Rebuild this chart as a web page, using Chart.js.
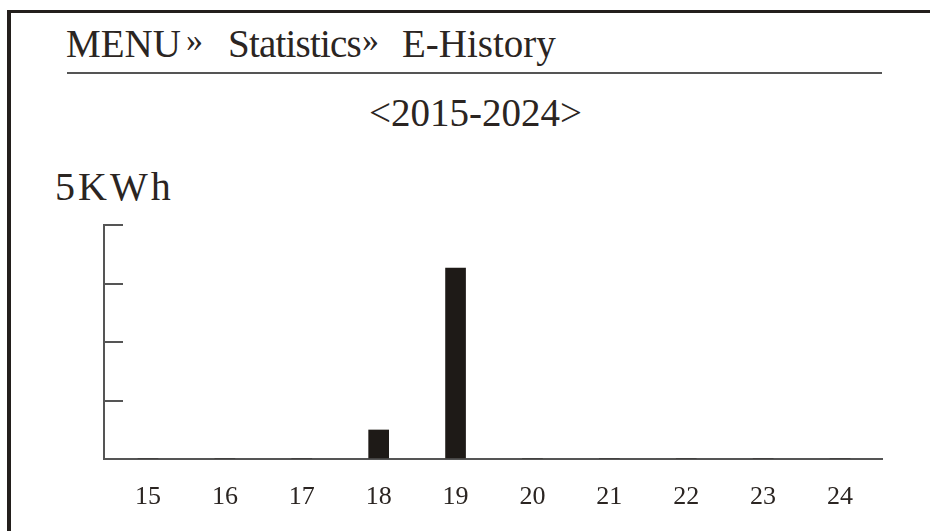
<!DOCTYPE html>
<html>
<head>
<meta charset="utf-8">
<script src="https://cdn.jsdelivr.net/npm/chart.js@4/dist/chart.umd.min.js"></script>
<style>
  html,body{margin:0;padding:0;background:#fff;overflow:hidden;}
  #wrap{position:relative;width:930px;height:531px;}
  #frame{position:absolute;left:7px;top:10px;width:1000px;height:600px;border-left:4px solid #231f1c;border-top:3px solid #231f1c;}
  .txt{position:absolute;font-family:"Liberation Serif","DejaVu Serif",serif;color:#2b2522;line-height:1;white-space:nowrap;}
  .head{top:24px;font-size:39px;}
  .raq{top:23px;font-size:34px;}
  #rule{position:absolute;left:67px;top:72px;width:815px;height:2px;background:#555;}
  #range{left:369px;top:93px;font-size:39px;}
  #unit{left:55px;top:167px;font-size:40px;letter-spacing:3px;}
  #chart{position:absolute;left:0;top:0;}
</style>
</head>
<body>
<div id="wrap">
  <div id="frame"></div>
  <div class="txt head" style="left:66px">MENU</div>
  <div class="txt raq" style="left:186px">»</div>
  <div class="txt head" style="left:228px;letter-spacing:-0.8px">Statistics</div>
  <div class="txt raq" style="left:362px">»</div>
  <div class="txt head" style="left:402px">E-History</div>
  <div id="rule"></div>
  <div class="txt" id="range">&lt;2015-2024&gt;</div>
  <div class="txt" id="unit">5KWh</div>
  <canvas id="chart" width="930" height="531"></canvas>
</div>
<script>
// --- data
const years = [15, 16, 17, 18, 19, 20, 21, 22, 23, 24];
const energy = [0, 0, 0, 0.62, 4.08, 0, 0, 0, 0, 0];
const yTicks = [0, 1.25, 2.5, 3.75, 5];

const axisColor = '#555';
const barColor = '#1e1a17';

const points = years.map((y, i) => ({x: y, y: energy[i]}));

const ctx = document.getElementById('chart').getContext('2d');
new Chart(ctx, {
  type: 'bar',
  data: {datasets: [{data: points, backgroundColor: barColor, borderWidth: 0, barThickness: 20}]},
  options: {
    responsive: false,
    animation: false,
    layout: {padding: {left: 0, top: 225, right: 48, bottom: 0}},
    plugins: {legend: {display: false}, tooltip: {enabled: false}},
    scales: {
      x: {
        type: 'linear',
        offset: false,
        min: 14.428,
        max: 24.546,
        afterBuildTicks: s => { s.ticks = years.map(v => ({value: v})); },
        afterFit: s => { s.height = 72; },
        grid: {display: false, offset: false},
        border: {display: true, color: axisColor, width: 2},
        ticks: {
          padding: 15,
          color: '#2b2522',
          font: {family: 'Liberation Serif', size: 26},
          callback: v => String(v)
        }
      },
      y: {
        min: 0,
        max: 5,
        afterBuildTicks: s => { s.ticks = yTicks.map(v => ({value: v})); },
        afterFit: s => { s.width = 104; },
        ticks: {display: false},
        grid: {
          drawOnChartArea: false,
          drawTicks: true,
          tickLength: -19,
          lineWidth: 2,
          color: c => (c.tick && c.tick.value === 0) ? 'rgba(0,0,0,0)' : axisColor
        },
        border: {display: true, color: axisColor, width: 2}
      }
    }
  }
});
</script>
</body>
</html>
